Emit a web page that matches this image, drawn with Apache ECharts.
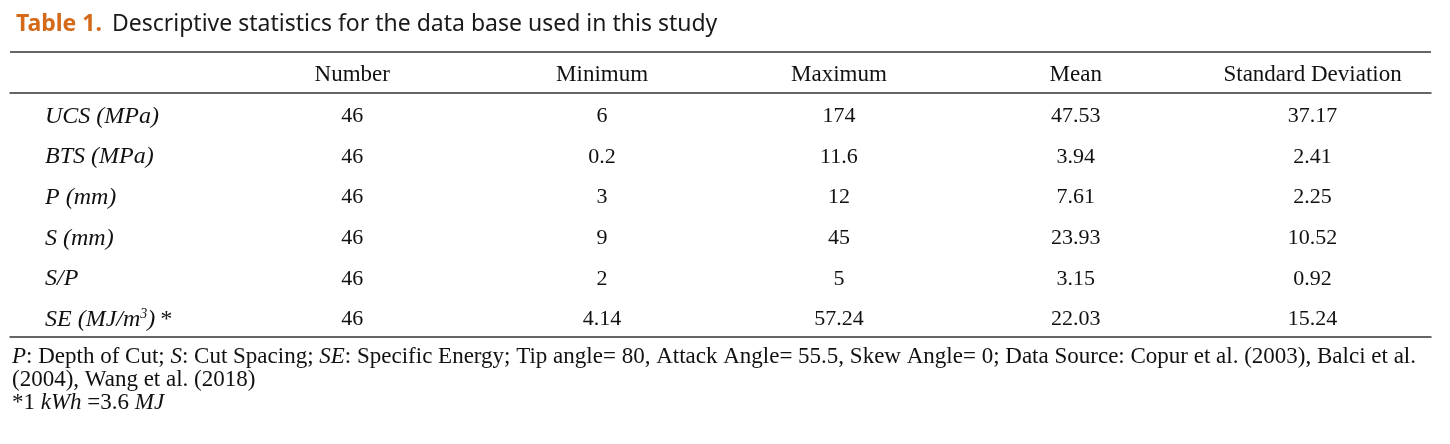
<!DOCTYPE html>
<html>
<head>
<meta charset="utf-8">
<script src="https://cdn.jsdelivr.net/npm/echarts@6/dist/echarts.min.js"></script>
<style>html,body{margin:0;padding:0;background:#fff;}#c{width:1450px;height:444px;}</style>
</head>
<body>
<div id="c"></div>
<script>
// ---- data ----
var columns = ['', 'Number', 'Minimum', 'Maximum', 'Mean', 'Standard Deviation'];
var rows = ['UCS (MPa)', 'BTS (MPa)', 'P (mm)', 'S (mm)', 'S/P', 'SE (MJ/m3)*'];
var rowLabels = ['UCS (MPa)', 'BTS (MPa)', 'P (mm)', 'S (mm)', 'S/P', 'SE (MJ/m{sup|3}){ast|*}'];
var numberVals = ['46', '46', '46', '46', '46', '46'];
var minimumVals = ['6', '0.2', '3', '9', '2', '4.14'];
var maximumVals = ['174', '11.6', '12', '45', '5', '57.24'];
var meanVals = ['47.53', '3.94', '7.61', '23.93', '3.15', '22.03'];
var stdVals = ['37.17', '2.41', '2.25', '10.52', '0.92', '15.24'];
var titleText = 'Table 1.';
var titleDesc = 'Descriptive statistics for the data base used in this study';
var notes = [
  '{i|P}: Depth of Cut; {i|S}: Cut Spacing; {i|SE}: Specific Energy; Tip angle= 80, Attack Angle= 55.5, Skew Angle= 0; Data Source: Copur et al. (2003), Balci et al.',
  '(2004), Wang et al. (2018)',
  '*1 {i|kWh} =3.6 {i|MJ}'
];

// ---- chart ----
var SERIF = '"Liberation Serif", "Times New Roman", serif';
var FS = 22;
var HFS = 23;
var RFS = 24;
var NFS = 23;
var TXT = '#111';
var LINE = '#333';
var valueCols = [numberVals, minimumVals, maximumVals, meanVals, stdVals];
var colOffsets = [-13, 0, 0, 0, 0];

var series = valueCols.map(function (vals, ci) {
  return {
    type: 'scatter',
    symbolSize: 1,
    itemStyle: { color: 'rgba(0,0,0,0)', opacity: 1 },
    silent: true,
    data: vals.map(function (v, ri) { return [columns[ci + 1], rows[ri], v]; }),
    label: {
      show: true,
      position: 'inside',
      offset: [colOffsets[ci], 3],
      formatter: function (p) { return p.value[2]; },
      fontFamily: SERIF,
      fontSize: FS,
      color: TXT,
      opacity: 1
    }
  };
});

var chart = echarts.init(document.getElementById('c'), null, { renderer: 'canvas' });
chart.setOption({
  animation: false,
  backgroundColor: '#fff',
  title: {
    text: '{a|' + titleText + '}{b|' + titleDesc + '}',
    left: 11,
    top: 8,
    textStyle: {
      fontWeight: 'normal',
      rich: {
        a: { fontFamily: '"Noto Sans", sans-serif', fontWeight: 'bold', fontSize: 23, color: '#d4691a', padding: [0, 10, 0, 0] },
        b: { fontFamily: '"Noto Sans", sans-serif', fontWeight: 'normal', fontSize: 23, color: '#1a1a1a' }
      }
    }
  },
  grid: { left: 10, right: 19, top: 93, bottom: 107, containLabel: false },
  xAxis: [{
    type: 'category',
    position: 'top',
    data: columns,
    boundaryGap: true,
    axisLine: { show: true, lineStyle: { color: LINE, width: 1.5 } },
    axisTick: { show: false },
    splitLine: { show: false },
    axisLabel: {
      interval: 0,
      margin: 7,
      fontFamily: SERIF,
      fontSize: HFS,
      color: TXT,
      formatter: function (v) { return v === 'Number' ? '{n|' + v + '}' : v; },
      rich: { n: { fontFamily: SERIF, fontSize: HFS, color: TXT, padding: [0, 26, 0, 0] } }
    }
  }, {
    type: 'category',
    position: 'bottom',
    data: columns,
    axisLine: { show: true, onZero: false, lineStyle: { color: LINE, width: 1.5 } },
    axisTick: { show: false },
    axisLabel: { show: false }
  }],
  yAxis: {
    type: 'category',
    data: rows,
    inverse: true,
    axisLine: { show: false },
    axisTick: { show: false },
    splitLine: { show: false },
    axisLabel: {
      interval: 0,
      align: 'left',
      margin: -35,
      padding: [6, 0, 0, 0],
      fontFamily: SERIF,
      fontStyle: 'italic',
      fontSize: RFS,
      color: TXT,
      formatter: function (v, i) { return rowLabels[i]; },
      rich: {
        sup: { fontFamily: SERIF, fontStyle: 'italic', fontSize: 14, color: TXT, verticalAlign: 'top', padding: [0, 0, 10, 0] },
        ast: { fontFamily: SERIF, fontStyle: 'italic', fontSize: RFS, color: TXT, padding: [0, 0, 0, 4] }
      }
    }
  },
  graphic: [
    { type: 'line', shape: { x1: 10, y1: 52, x2: 1431, y2: 52 }, style: { stroke: LINE, lineWidth: 1.5 } }
  ].concat(notes.map(function (t, i) {
    return {
      type: 'text',
      left: 12,
      top: 345 + i * 23,
      style: {
        text: t,
        fontFamily: SERIF,
        fontSize: NFS,
        fill: TXT,
        rich: {
          i: { fontFamily: SERIF, fontStyle: 'italic', fontSize: NFS, fill: TXT }
        }
      }
    };
  })),
  series: series
});
</script>
</body>
</html>
